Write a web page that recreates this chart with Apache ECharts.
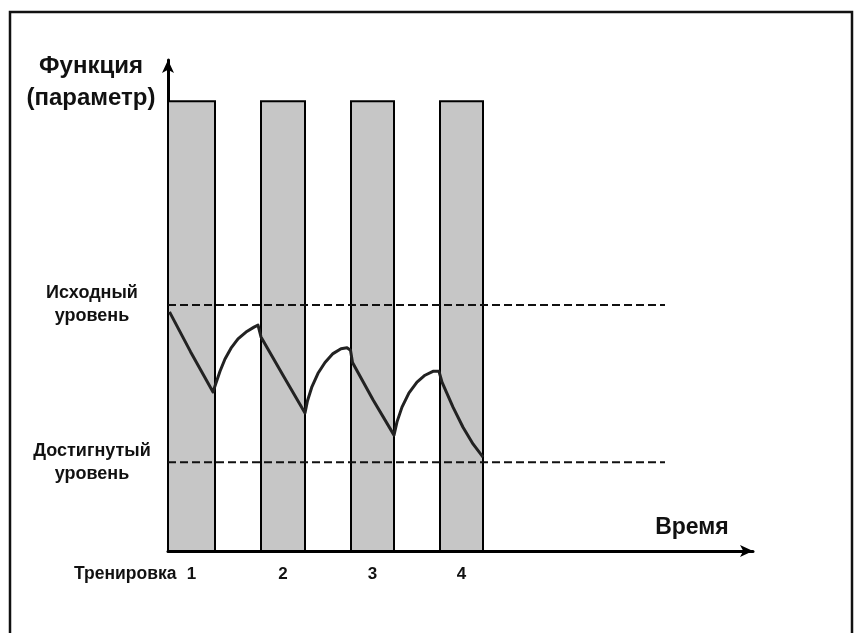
<!DOCTYPE html>
<html>
<head>
<meta charset="utf-8">
<script src="https://cdn.jsdelivr.net/npm/echarts@6/dist/echarts.min.js"></script>
<style>
html,body{margin:0;padding:0;background:#fff;}
#c{width:854px;height:633px;}
</style>
</head>
<body>
<div id="c"></div>
<script>
// ---- data (time units / function units) ----
const xMax = 117;
const yMax = 100;
const barStarts = [0, 18.6, 36.6, 54.4];
const barEnds = [9.4, 27.4, 45.2, 63];
const barTop = 91.6;
const barLabels = ['1', '2', '3', '4'];
const firstLabelPrefix = 'Тренировка';
const initialLevel = 50.1;
const achievedLevel = 18.1;
const levelLineEnd = 99.4;
const levelNames = ['Исходный\nуровень', 'Достигнутый\nуровень'];
const curveX = [0.3, 4.5, 9, 9.6, 10.4, 11.4, 12.6, 14, 15.6, 17.2, 18, 18.6, 23, 27.4, 27.9, 28.8, 30, 31.4, 33, 34.6, 35.8, 36.5, 36.9, 41, 45.2, 45.8, 46.8, 48.2, 49.8, 51.4, 53, 54.2, 54.8, 57, 59, 61, 63];
const curveY = [48.7, 40.6, 32.4, 34.2, 36.6, 39.1, 41.3, 43.2, 44.6, 45.6, 46, 43.6, 35.8, 28.1, 30.6, 33.5, 36.2, 38.4, 40.2, 41.2, 41.4, 40.9, 38.4, 30.8, 23.6, 26.3, 29.3, 32.2, 34.4, 35.8, 36.6, 36.6, 34.4, 29.3, 25.2, 21.8, 19.1];
const yAxisName = 'Функция\n(параметр)';
const xAxisName = 'Время';

const font = '"Liberation Sans", Arial, sans-serif';
const chart = echarts.init(document.getElementById('c'), null, {renderer: 'canvas'});

const barData = barStarts.map((s, i) => [s, barEnds[i], barTop, barLabels[i]]);
const curveData = curveX.map((x, i) => [x, curveY[i]]);

chart.setOption({
  animation: false,
  backgroundColor: '#fff',
  grid: {left: 168, right: 101, top: 60, bottom: 82, containLabel: false},
  xAxis: {
    type: 'value', min: 0, max: xMax,
    axisLine: {show: true, symbol: ['none', 'arrow'], symbolSize: [9, 13], lineStyle: {color: '#000', width: 3}},
    axisTick: {show: false}, axisLabel: {show: false}, splitLine: {show: false}
  },
  yAxis: {
    type: 'value', min: 0, max: yMax,
    axisLine: {show: true, symbol: ['none', 'arrow'], symbolSize: [9, 13], lineStyle: {color: '#000', width: 3}},
    axisTick: {show: false}, splitLine: {show: false},
    axisLabel: {
      show: true,
      customValues: [initialLevel, achievedLevel],
      formatter: function (v) { return Math.abs(v - initialLevel) < 0.01 ? levelNames[0] : levelNames[1]; },
      align: 'center', margin: 76,
      color: '#111', fontFamily: font, fontWeight: 'bold', fontSize: 18, lineHeight: 23
    }
  },
  graphic: [
    {type: 'rect', shape: {x: 10, y: 12, width: 842, height: 680}, style: {fill: 'none', stroke: '#111', lineWidth: 2.5}, silent: true},
    {type: 'text', x: 91, y: 82, style: {text: yAxisName, font: 'bold 24px ' + font, fill: '#111', textAlign: 'center', textVerticalAlign: 'middle', lineHeight: 32}},
    {type: 'text', x: 692, y: 528, style: {text: xAxisName, font: 'bold 23px ' + font, fill: '#111', textAlign: 'center', textVerticalAlign: 'middle'}}
  ],
  series: [
    {
      type: 'custom', z: 1,
      data: barData,
      renderItem: function (params, api) {
        const p0 = api.coord([api.value(0), 0]);
        const p1 = api.coord([api.value(1), api.value(2)]);
        const cx = (p0[0] + p1[0]) / 2;
        const children = [
          {type: 'rect', shape: {x: p0[0], y: p1[1], width: p1[0] - p0[0], height: p0[1] - p1[1]},
           style: {fill: '#c6c6c6', stroke: '#000', lineWidth: 2}},
          {type: 'text', style: {x: cx, y: p0[1] + 23, text: barLabels[params.dataIndex], textAlign: 'center', textVerticalAlign: 'middle', font: 'bold 17px ' + font, fill: '#111'}}
        ];
        if (params.dataIndex === 0) {
          children.push({type: 'text', style: {x: cx - 15, y: p0[1] + 23, text: firstLabelPrefix, textAlign: 'right', textVerticalAlign: 'middle', font: 'bold 17.5px ' + font, fill: '#111'}});
        }
        return {type: 'group', children: children};
      }
    },
    {
      type: 'line', z: 3, symbol: 'none', silent: true,
      data: [[0, initialLevel], [levelLineEnd, initialLevel]],
      lineStyle: {color: '#111', width: 2, type: [8, 4]}
    },
    {
      type: 'line', z: 3, symbol: 'none', silent: true,
      data: [[0, achievedLevel], [levelLineEnd, achievedLevel]],
      lineStyle: {color: '#111', width: 2, type: [8, 4]}
    },
    {
      type: 'line', z: 4, symbol: 'none', smooth: false, silent: true,
      data: curveData,
      lineStyle: {color: '#222', width: 3, join: 'round'}
    }
  ]
});
</script>
</body>
</html>
